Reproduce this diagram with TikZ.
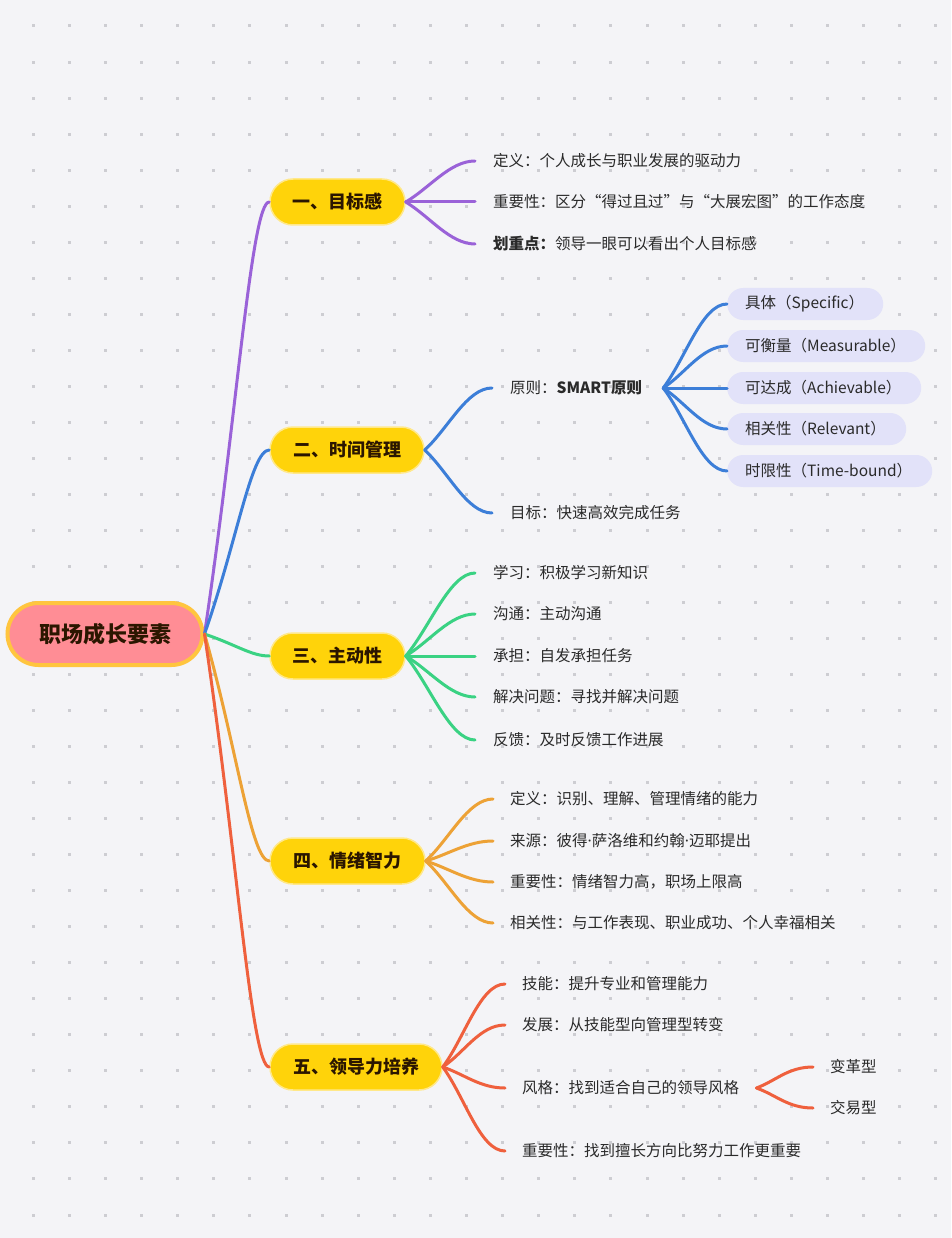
\documentclass[tikz,border=0pt]{standalone}
\usepackage{fontspec}
\setmainfont{Noto Sans CJK SC}
\newfontfamily\latinf{Noto Sans}
\usetikzlibrary{calc}
\definecolor{bg}{HTML}{F4F4F7}
\definecolor{dotc}{HTML}{CDCDD2}
\definecolor{pillY}{HTML}{FFD30A}
\definecolor{pillGlow}{HTML}{FFE889}
\definecolor{pilltxt}{HTML}{2B1600}
\definecolor{rootfill}{HTML}{FF8D95}
\definecolor{rootedge}{HTML}{FFC53F}
\definecolor{leaftxt}{HTML}{2A2A2A}
\definecolor{lav}{HTML}{E2E2F9}
\definecolor{cpurple}{HTML}{9A62D8}
\definecolor{cblue}{HTML}{3C7ED8}
\definecolor{cgreen}{HTML}{3AD283}
\definecolor{corange}{HTML}{EDA236}
\definecolor{cred}{HTML}{EF603D}
\newcommand\mmfan[3]{\draw[br,#1] (#2) .. controls ($(#2)!0.35!(#3)$) and ($(#3)+(-25,0)$) .. (#3);}
\newcommand\mmtrunk[3]{\draw[br,#1] (#2) .. controls ($(#2)!0.5!(#3)$) and ($(#3)+(-18,0)$) .. (#3);}
\newcommand\mdot{{\latinf ·}}
\begin{document}
\begin{tikzpicture}[x=1pt,y=-1pt,
  lone/.style={fill=pillY, draw=pillGlow, line width=1.5pt, rounded corners=23pt,
    minimum height=46pt, inner sep=0pt, text=pilltxt,
    font=\fontsize{18}{20}\selectfont\bfseries},
  rootnode/.style={fill=rootfill, draw=rootedge, line width=4pt, rounded corners=31pt,
    minimum height=62pt, minimum width=195pt, inner sep=0pt, text=pilltxt,
    font=\fontsize{22}{24}\selectfont\bfseries},
  leaf/.style={anchor=west, inner ysep=0pt, inner xsep=18pt, text=leaftxt,
    font=\fontsize{15.5}{18}\selectfont},
  smartpill/.style={anchor=west, fill=lav, rounded corners=16pt, minimum height=32pt,
    inner ysep=0pt, inner xsep=18pt, align=left, text=leaftxt,
    font=\fontsize{15.5}{18}\selectfont},
  br/.style={line width=3pt, line cap=round}]
\fill[bg] (0,0) rectangle (951,1238);
\useasboundingbox (0,0) rectangle (951,1238);
\foreach \i in {0,...,25}{
  \foreach \j in {0,...,33}{
    \fill[dotc] ({33.3+36.1*\i-1.5},{26+36.03*\j-1.5}) rectangle ++(3,3);
  }
}
% root and level-1 nodes
\node[rootnode] (root) at (105,634) {职场成长要素};
\node[lone, minimum width=135pt] (A) at (337.5,202) {一、目标感};
\node[lone, minimum width=154pt] (B) at (347,450) {二、时间管理};
\node[lone, minimum width=135pt] (C) at (337.5,656) {三、主动性};
\node[lone, minimum width=155pt] (D) at (347.5,861) {四、情绪智力};
\node[lone, minimum width=172pt] (E) at (356,1067) {五、领导力培养};
% trunks
\mmtrunk{cpurple}{root.east}{A.west}
\mmtrunk{cblue}{root.east}{B.west}
\mmtrunk{cgreen}{root.east}{C.west}
\mmtrunk{corange}{root.east}{D.west}
\mmtrunk{cred}{root.east}{E.west}
% A leaves
\node[leaf] (a1) at (475,161) {定义：个人成长与职业发展的驱动力};
\node[leaf] (a2) at (475,202) {重要性：区分“得过且过”与“大展宏图”的工作态度};
\node[leaf] (a3) at (475,244) {{\bfseries 划重点：}领导一眼可以看出个人目标感};
\foreach \n in {a1,a2,a3}{\mmfan{cpurple}{A.east}{\n.west}}
% B leaves
\node[leaf] (b1) at (492,388) {原则：{\bfseries SMART原则}};
\node[leaf] (b2) at (492,513) {目标：快速高效完成任务};
\foreach \n in {b1,b2}{\mmfan{cblue}{B.east}{\n.west}}
\node[smartpill, text width=120pt] (s1) at (727,304) {具体（Specific）};
\node[smartpill, text width=162pt] (s2) at (727,346) {可衡量（Measurable）};
\node[smartpill, text width=158pt] (s3) at (727,388) {可达成（Achievable）};
\node[smartpill, text width=143pt] (s4) at (727,429) {相关性（Relevant）};
\node[smartpill, text width=169pt] (s5) at (727,471) {时限性（Time-bound）};
\coordinate (bfan) at ($(b1.east)+(3,0)$);
\foreach \n in {s1,s2,s3,s4,s5}{\mmfan{cblue}{bfan}{\n.west}}
% C leaves
\node[leaf] (c1) at (475,573) {学习：积极学习新知识};
\node[leaf] (c2) at (475,614) {沟通：主动沟通};
\node[leaf] (c3) at (475,656) {承担：自发承担任务};
\node[leaf] (c4) at (475,697) {解决问题：寻找并解决问题};
\node[leaf] (c5) at (475,740) {反馈：及时反馈工作进展};
\foreach \n in {c1,c2,c3,c4,c5}{\mmfan{cgreen}{C.east}{\n.west}}
% D leaves
\node[leaf, inner xsep=17pt] (d1) at (493,799) {定义：识别、理解、管理情绪的能力};
\node[leaf, inner xsep=17pt] (d2) at (493,841) {来源：彼得\mdot 萨洛维和约翰\mdot 迈耶提出};
\node[leaf, inner xsep=17pt] (d3) at (493,882) {重要性：情绪智力高，职场上限高};
\node[leaf, inner xsep=17pt] (d4) at (493,923) {相关性：与工作表现、职业成功、个人幸福相关};
\foreach \n in {d1,d2,d3,d4}{\mmfan{corange}{D.east}{\n.west}}
% E leaves
\node[leaf, inner xsep=17pt] (e1) at (505,984) {技能：提升专业和管理能力};
\node[leaf, inner xsep=17pt] (e2) at (505,1025) {发展：从技能型向管理型转变};
\node[leaf, inner xsep=17pt] (e3) at (505,1088) {风格：找到适合自己的领导风格};
\node[leaf, inner xsep=17pt] (e4) at (505,1151) {重要性：找到擅长方向比努力工作更重要};
\foreach \n in {e1,e2,e3,e4}{\mmfan{cred}{E.east}{\n.west}}
\node[leaf, inner xsep=17pt] (f1) at (813,1067) {变革型};
\node[leaf, inner xsep=17pt] (f2) at (813,1108) {交易型};
\foreach \n in {f1,f2}{\mmfan{cred}{e3.east}{\n.west}}
\end{tikzpicture}
\end{document}
